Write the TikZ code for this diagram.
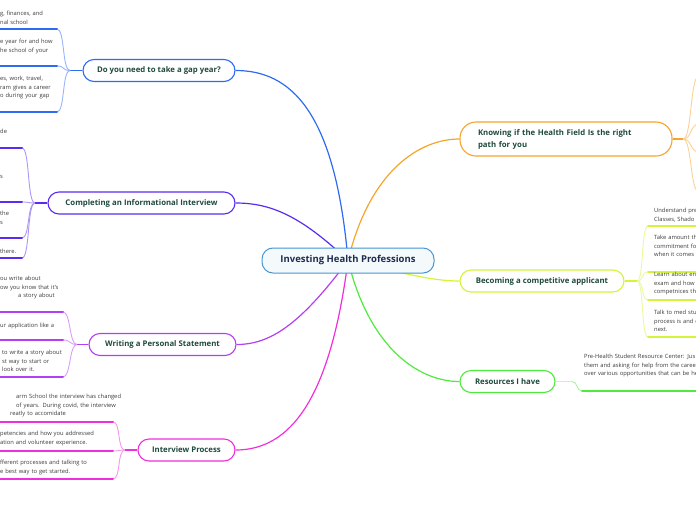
\documentclass[tikz,border=0pt]{standalone}
\usepackage{fontspec}
\setmainfont{Open Sans}
\usetikzlibrary{backgrounds}
\definecolor{cblue}{HTML}{2F6BF2}
\definecolor{cindigo}{HTML}{5A2CF2}
\definecolor{cviolet}{HTML}{B23FF2}
\definecolor{cmagenta}{HTML}{EE2FDB}
\definecolor{corange}{HTML}{F6A42C}
\definecolor{clime}{HTML}{D2F53A}
\definecolor{cgreen}{HTML}{4FEA3E}
\definecolor{ccentral}{HTML}{4596D2}
\definecolor{ttopic}{HTML}{1F4A3C}
\definecolor{tcentral}{HTML}{1F2D4F}
\definecolor{tleaf}{HTML}{3A3A3A}
\begin{document}
\begin{tikzpicture}[x=1pt,y=-1pt,
    central/.style={draw=ccentral,fill=ccentral!6,line width=1pt,rounded corners=11pt,
      minimum width=172pt,minimum height=25pt,inner sep=0pt,text=tcentral,
      font=\fontsize{9.5}{11}\selectfont\bfseries},
    topic/.style={draw=#1,fill=white,line width=1.1pt,rounded corners=11pt,
      minimum height=22pt,inner sep=0pt,text=ttopic,font=\fontsize{7.8}{12}\selectfont\bfseries},
    leaf/.style={anchor=base west,inner sep=0pt,text width=160pt,align=left,text=tleaf,
      font=\fontsize{5.8}{8.5}\selectfont},
    trunk/.style={draw=#1,line width=1.2pt},
    stem/.style={draw=#1,line width=1.4pt},
    twig/.style={draw=#1!50,line width=0.9pt},
    uline/.style={draw=#1,line width=2pt,line cap=round}]
    \useasboundingbox (0,0) rectangle (696,520);
    \coordinate (lft) at (-3,0);
    \coordinate (rgt) at (700,0);
    % 中心
    \node[central] (root) at (348,260.5) {Investing Health Professions};
    % 左側の枝
    \node[topic=cblue,minimum width=152pt] (gap) at (159,70.5) {Do you need to take a gap year?};
    \node[topic=cindigo,minimum width=187pt] (info) at (141.5,203) {Completing an Informational Interview};
    \node[topic=cviolet,minimum width=147pt] (stmt) at (162.5,344.5) {Writing a Personal Statement};
    \node[topic=cmagenta,minimum width=97pt] (intv) at (186.5,450) {Interview Process};
    % 右側の枝
    \node[topic=corange,minimum width=212pt,minimum height=34pt,rounded corners=16pt,
      text width=176pt,align=left] (know) at (566,139) {Knowing if the Health Field Is the right\\path for you};
    \node[topic=clime,minimum width=164pt] (comp) at (542,281) {Becoming a competitive applicant};
    \node[topic=cgreen,minimum width=95pt] (res) at (507.5,381.5) {Resources I have};
    % 中心から枝へ
    \begin{scope}[on background layer]
    \draw[trunk=cblue] (root.center) .. controls (335,110) and (290,70.5) .. (gap.east);
    \draw[trunk=cindigo] (root.center) .. controls (300,215) and (270,203) .. (info.east);
    \draw[trunk=cviolet] (root.center) .. controls (300,325) and (270,344.5) .. (stmt.east);
    \draw[trunk=cmagenta] (root.center) .. controls (330,400) and (290,450) .. (intv.east);
    \draw[trunk=corange] (root.center) .. controls (370,170) and (420,139) .. (know.west);
    \draw[trunk=clime] (root.center) .. controls (400,272) and (430,281) .. (comp.west);
    \draw[trunk=cgreen] (root.center) .. controls (370,350) and (420,381.5) .. (res.west);
    \end{scope}
    % 分岐点
    \coordinate (jgap) at (70,70.5);
    \coordinate (jinfo) at (35,203);
    \coordinate (jstmt) at (77,344.5);
    \coordinate (jintv) at (125,450);
    \coordinate (jknow) at (683,139);
    \coordinate (jcomp) at (637,281);
    \coordinate (jres) at (572,381.5);
    \draw[stem=cblue] (gap.west) -- (jgap);
    \draw[stem=cindigo] (info.west) -- (jinfo);
    \draw[stem=cviolet] (stmt.west) -- (jstmt);
    \draw[stem=cmagenta] (intv.west) -- (jintv);
    \draw[stem=corange] (know.east) -- (jknow);
    \draw[stem=clime] (comp.east) -- (jcomp);
    \draw[stem=cgreen!35] (res.east) -- (jres);
    % 葉の線
    \foreach \i/\y in {1/29,2/66,3/112} \coordinate (gap\i) at (57,\y);
    \foreach \i/\y in {1/148,2/202,3/238,4/258} \coordinate (info\i) at (22,\y);
    \foreach \i/\y in {1/312,2/340,3/377} \coordinate (stmt\i) at (63,\y);
    \foreach \i/\y in {1/422,2/451,3/479} \coordinate (intv\i) at (113,\y);
    \foreach \i/\y in {1/76,2/124,3/152,4/192} \coordinate (know\i) at (699,\y);
    \foreach \i/\y in {1/226,2/272,3/300,4/337} \coordinate (comp\i) at (648,\y);
    \coordinate (res1) at (582,391);
    \foreach \i in {1,2,3} {
      \draw[twig=cblue] (jgap) .. controls +(-8,0) and +(8,0) .. (gap\i);
      \draw[uline=cblue] (gap\i) -- (gap\i -| lft);
      \draw[twig=cviolet] (jstmt) .. controls +(-8,0) and +(8,0) .. (stmt\i);
      \draw[uline=cviolet] (stmt\i) -- (stmt\i -| lft);
      \draw[twig=cmagenta] (jintv) .. controls +(-8,0) and +(8,0) .. (intv\i);
      \draw[uline=cmagenta] (intv\i) -- (intv\i -| lft);
    }
    \foreach \i in {1,...,4} {
      \draw[twig=cindigo] (jinfo) .. controls +(-8,0) and +(8,0) .. (info\i);
      \draw[uline=cindigo] (info\i) -- (info\i -| lft);
      \draw[twig=corange] (jknow) .. controls +(9,0) and +(-9,0) .. (know\i);
      \draw[twig=clime] (jcomp) .. controls +(7,0) and +(-7,0) .. (comp\i);
      \draw[uline=clime] (comp\i) -- (comp\i -| rgt);
    }
    \draw[twig=cgreen] (jres) .. controls +(6,0) and +(-6,0) .. (res1);
    \draw[uline=cgreen] (res1) -- (res1 -| rgt);
    % 葉のテキスト
    \node[leaf] (gapt1) at (0,15.5) {g, finances, and\\nal school};
    \node[leaf] (gapt2) at (0,43.5) {e year for and how\\he school of your};
    \node[leaf] (gapt3) at (0,80.5) {es, work, travel,\\ram gives a career\\o during your gap};
    \node[leaf] (infot1) at (0,133.5) {de};
    \node[leaf] (infot2) at (0,178.5) {s};
    \node[leaf] (infot3) at (0,215.5) {the\\s};
    \node[leaf] (infot4) at (0,253.5) {there.};
    \node[leaf] (stmtt1) at (0,280.5) {ou write about\\ow you know that it's\\\hspace*{18pt}a story about};
    \node[leaf] (stmtt2) at (0,327.5) {ur application like a};
    \node[leaf] (stmtt3) at (2,354.5) {to write a story about\\st way to start or\\look over it.};
    \node[leaf] (intvt1) at (10,398.5) {\hspace*{6pt}arm School the interview has changed\\\hspace*{6pt}of years. During covid, the interview\\reatly to accomidate};
    \node[leaf] (intvt2) at (0,435.5) {petencies and how you addressed\\ation and volunteer experience.};
    \node[leaf] (intvt3) at (0,464.5) {fferent processes and talking to\\e best way to get started.};
    \node[leaf] (compt1) at (654,212.5) {Understand pre\\Classes, Shado};
    \node[leaf] (compt2) at (654,239.5) {Take amount th\\commitment fo\\when it comes t};
    \node[leaf] (compt3) at (654,276.5) {Learn about en\\exam and how\\competnices th};
    \node[leaf] (compt4) at (654,314.5) {Talk to med stu\\process is and c\\next.};
    \node[leaf] (rest1) at (584,358.5) {Pre-Health Student Resource Center: Jus\\them and asking for help from the caree\\over various opportunities that can be he};
\end{tikzpicture}
\end{document}
